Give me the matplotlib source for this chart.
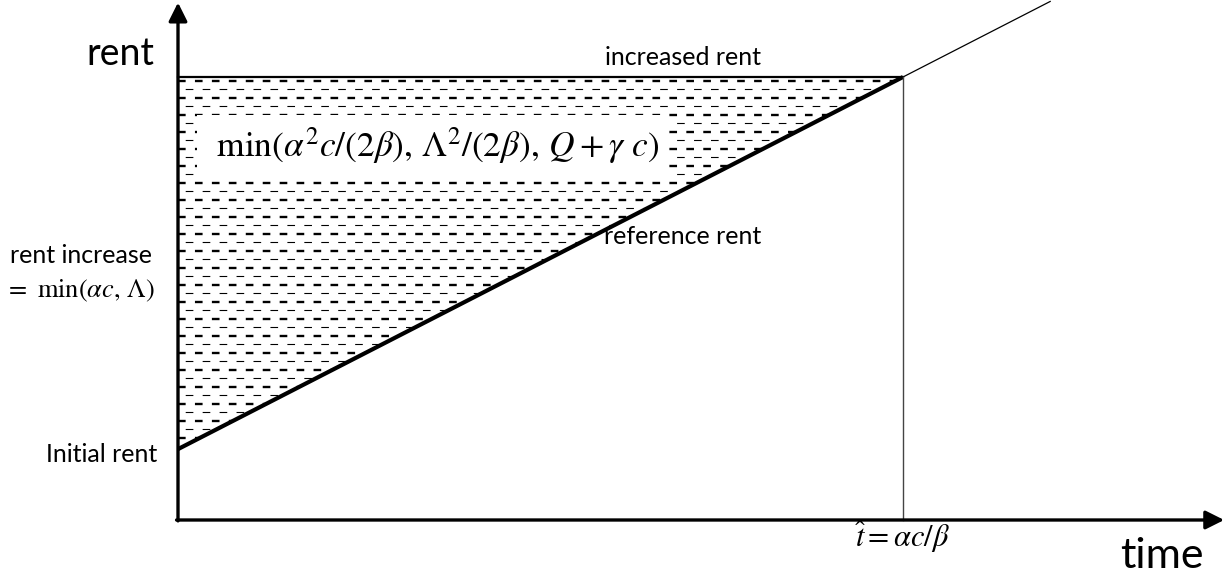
import numpy as np
import matplotlib
matplotlib.use("Agg")
import matplotlib.pyplot as plt
from matplotlib.patches import Polygon

plt.rcParams['font.family'] = ['Lato', 'DejaVu Sans']
plt.rcParams['mathtext.fontset'] = 'stix'
plt.rcParams['lines.scale_dashes'] = False

# schematic values (time in units of t_hat, rent in units of the increased rent)
initial_rent = 0.16
increased_rent = 1.0
t_hat = 1.0
t_extend = 1.203          # where the thin continuation of the reference line stops
t_axis_end = 1.443
rent_axis_end = 1.168

# reference rent grows linearly from the initial rent to the increased rent at t_hat
slope = (increased_rent - initial_rent) / t_hat
ref_t = [0.0, t_hat]
ref_rent = [initial_rent + slope * t for t in ref_t]
ext_t = [t_hat, t_extend]
ext_rent = [initial_rent + slope * t for t in ext_t]

fig = plt.figure(figsize=(12.32, 5.77), dpi=100)
ax = fig.add_axes([0, 0, 1, 1])
ax.set_xlim(-178 / 725, (1232 - 178) / 725)
ax.set_ylim((520 - 577) / 443, 520 / 443)
ax.axis('off')

# hatched triangle between the reference rent and the increased rent
tri = Polygon([(0, initial_rent), (0, increased_rent), (t_hat, increased_rent)],
              closed=True, facecolor='none', edgecolor='none')
ax.add_patch(tri)
row = 8.5 / 443
levels = np.arange(increased_rent - 3.5 / 443, initial_rent, -row)
for i, lev in enumerate(levels):
    bold = i % 2 == 0
    ln, = ax.plot([0, t_hat], [lev, lev], color='black',
                  lw=1.7 if bold else 0.8, solid_capstyle='butt')
    ln.set_linestyle((0.0 if bold else 7.0, (5.5, 6.7)))
    ln.set_clip_path(tri)

# lines
ax.plot(ref_t, ref_rent, color='black', lw=3.0, solid_capstyle='butt')
ax.plot(ext_t, ext_rent, color='black', lw=0.9)
ax.plot([0, t_hat], [increased_rent, increased_rent], color='black', lw=1.6)
ax.plot([t_hat, t_hat], [0, increased_rent], color='#444444', lw=1.0)

# axes with arrows
arrow = dict(arrowstyle='-|>', lw=2.4, color='black', mutation_scale=28,
             shrinkA=0, shrinkB=0)
ax.annotate('', xy=(t_axis_end, 0), xytext=(-0.002, 0), arrowprops=arrow)
ax.annotate('', xy=(0, rent_axis_end), xytext=(0, -0.002), arrowprops=arrow)

# labels
ax.text(0.352, 0.819, r'$\ \min(\alpha^2c/(2\beta),\,\Lambda^2/(2\beta),\,Q+\gamma\ c)\ $',
        fontsize=25.5, ha='center', va='baseline',
        bbox=dict(facecolor='white', edgecolor='none', boxstyle='square,pad=0.3'))
ax.text(-0.127, 1.027, 'rent', fontsize=27, ha='left', va='baseline')
ax.text(1.299, -0.108, 'time', fontsize=31, ha='left', va='baseline')
ax.text(0.589, 1.027, 'increased rent', fontsize=18, ha='left', va='baseline')
ax.text(0.588, 0.623, 'reference rent', fontsize=18, ha='left', va='baseline')
ax.text(-0.2317, 0.580, 'rent increase', fontsize=18, ha='left', va='baseline')
ax.text(-0.2386, 0.503, r'$=\ \min(\alpha c,\,\Lambda)$', fontsize=19, ha='left', va='baseline')
ax.text(-0.029, 0.131, 'Initial rent', fontsize=18, ha='right', va='baseline')
ax.text(0.9986, -0.061, r'$\hat{t}=\alpha c/\beta$', fontsize=22, ha='center', va='baseline')

fig.savefig('out.png', dpi=100)
